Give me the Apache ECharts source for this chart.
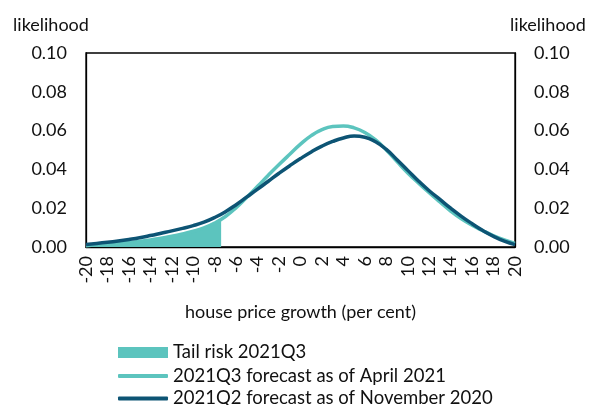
<!DOCTYPE html>
<html><head><meta charset="utf-8">
<script src="https://cdn.jsdelivr.net/npm/echarts@6/dist/echarts.min.js"></script>
<style>html,body{margin:0;padding:0;background:#fff}#c{width:589px;height:405px}</style>
</head><body><div id="c"></div>
<script>
var xValues = [-20,-19,-18,-17,-16,-15,-14,-13,-12,-11,-10,-9,-8,-7,-6,-5,-4,-3,-2,-1,0,1,2,3,4,5,6,7,8,9,10,11,12,13,14,15,16,17,18,19,20];
var aprilForecast = [0.0007,0.0010,0.0014,0.0018,0.0023,0.0029,0.0036,0.0045,0.0055,0.0067,0.0081,0.0099,0.0123,0.0157,0.0203,0.0257,0.0313,0.0370,0.0425,0.0478,0.0530,0.0574,0.0605,0.0621,0.0624,0.0614,0.0590,0.0552,0.0500,0.0440,0.0382,0.0330,0.0280,0.0232,0.0185,0.0145,0.0112,0.0084,0.0058,0.0036,0.0018];
var novemberForecast = [0.0013,0.0018,0.0024,0.0031,0.0039,0.0048,0.0059,0.0071,0.0083,0.0096,0.0110,0.0128,0.0152,0.0182,0.0218,0.0258,0.0298,0.0339,0.0380,0.0419,0.0456,0.0490,0.0520,0.0544,0.0562,0.0572,0.0566,0.0542,0.0503,0.0450,0.0395,0.0340,0.0290,0.0245,0.0200,0.0158,0.0120,0.0085,0.0055,0.0030,0.0012];
var tailX = [-20,-19,-18,-17,-16,-15,-14,-13,-12,-11,-10,-9,-8,-7.4];
var tailValues = [0.0007,0.0010,0.0014,0.0018,0.0023,0.0029,0.0036,0.0045,0.0055,0.0067,0.0081,0.0099,0.0123,0.0145];
var yTicks = [0, 0.02, 0.04, 0.06, 0.08, 0.10];
var seriesNames = ['Tail risk 2021Q3', '2021Q3 forecast as of April 2021', '2021Q2 forecast as of November 2020'];

var TEAL = '#5CC4BE', NAVY = '#0D5474';
function pairs(xs, ys){ return xs.map(function(x,i){ return [x, ys[i]]; }); }
var font = 'Lato, "Open Sans", sans-serif';
var yAxisBase = {
  type:'value', min:yTicks[0], max:yTicks[yTicks.length-1], interval:0.02,
  axisLine:{show:true, onZero:false, lineStyle:{color:'#000', width:1.3}},
  axisTick:{show:false}, splitLine:{show:false},
  axisLabel:{color:'#111', fontSize:18, fontFamily:font, margin:19, formatter:function(v){return v.toFixed(2);}},
  name:'likelihood', nameLocation:'end', nameGap:19,
  nameTextStyle:{color:'#111', fontSize:18, fontFamily:font}
};
var legendText = {color:'#111', fontSize:18.5, fontFamily:font};
function legendRow(i, top, h, icon){
  return {orient:'vertical', left:118, top:top, padding:0, itemWidth:50, itemHeight:h,
          textStyle:legendText, data:[{name:seriesNames[i], icon:icon}]};
}
var chart = echarts.init(document.getElementById('c'), null, {renderer:'canvas'});
chart.setOption({
  animation:false,
  backgroundColor:'#fff',
  grid:{left:86, right:74, top:53, bottom:158, show:true, borderColor:'#000', borderWidth:1.3, backgroundColor:'transparent'},
  xAxis:{
    type:'value', min:-20, max:20, interval:2,
    axisLine:{show:true, onZero:false, lineStyle:{color:'#000', width:1.3}},
    axisTick:{show:false}, splitLine:{show:false},
    axisLabel:{rotate:90, color:'#111', fontSize:18, fontFamily:font, margin:9},
    name:'house price growth (per cent)', nameLocation:'middle', nameGap:56,
    nameTextStyle:{color:'#111', fontSize:18, fontFamily:font}
  },
  yAxis:[
    Object.assign({}, yAxisBase, {position:'left', nameTextStyle:Object.assign({}, yAxisBase.nameTextStyle, {padding:[0,70,0,0]})}),
    Object.assign({}, yAxisBase, {position:'right', nameTextStyle:Object.assign({}, yAxisBase.nameTextStyle, {padding:[0,0,0,66]})})
  ],
  legend:[
    legendRow(0, 343, 11, 'rect'),
    legendRow(1, 366.5, 4, 'roundRect'),
    legendRow(2, 389, 4, 'roundRect')
  ],
  series:[
    {name:seriesNames[0], type:'line', data:pairs(tailX, tailValues), smooth:true, showSymbol:false, symbol:'none',
     lineStyle:{width:0, color:TEAL}, itemStyle:{color:TEAL}, areaStyle:{color:TEAL, opacity:1}},
    {name:seriesNames[1], type:'line', data:pairs(xValues, aprilForecast), smooth:true, showSymbol:false, symbol:'none',
     lineStyle:{width:3.5, color:TEAL}, itemStyle:{color:TEAL}},
    {name:seriesNames[2], type:'line', data:pairs(xValues, novemberForecast), smooth:true, showSymbol:false, symbol:'none',
     lineStyle:{width:3.5, color:NAVY}, itemStyle:{color:NAVY}}
  ]
});
</script></body></html>
